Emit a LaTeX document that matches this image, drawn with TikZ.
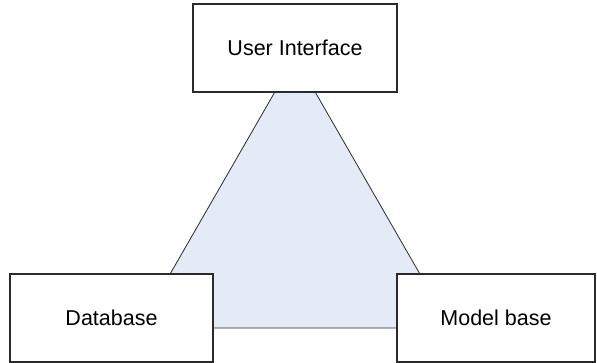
\documentclass[tikz,border=0pt]{standalone}
\usepackage{fontspec}
\setmainfont{Liberation Sans}
\definecolor{panelblue}{HTML}{E4EBF6}
\definecolor{edgegray}{HTML}{2A2A2A}
\begin{document}
\begin{tikzpicture}[x=1pt,y=-1pt,
  component/.style={draw=edgegray, line width=1.8pt, fill=white, inner sep=0pt,
    font=\fontsize{21.5}{25}\selectfont},
  link/.style={draw=edgegray, line width=0.8pt}]
  \useasboundingbox (0,0) rectangle (597,363);
  % triangle connecting the three components
  \coordinate (apex) at (295,57);
  \coordinate (baseL) at (139,328);
  \coordinate (baseR) at (451,328);
  \path[link, fill=panelblue] (apex) -- (baseL) -- (baseR) -- cycle;
  % components
  \node[component, minimum width=204pt, minimum height=88pt] (ui) at (295,48) {User Interface};
  \node[component, minimum width=203pt, minimum height=88pt] (db) at (111.5,318) {Database};
  \node[component, minimum width=198pt, minimum height=88pt] (mb) at (496,318) {Model base};
\end{tikzpicture}
\end{document}
